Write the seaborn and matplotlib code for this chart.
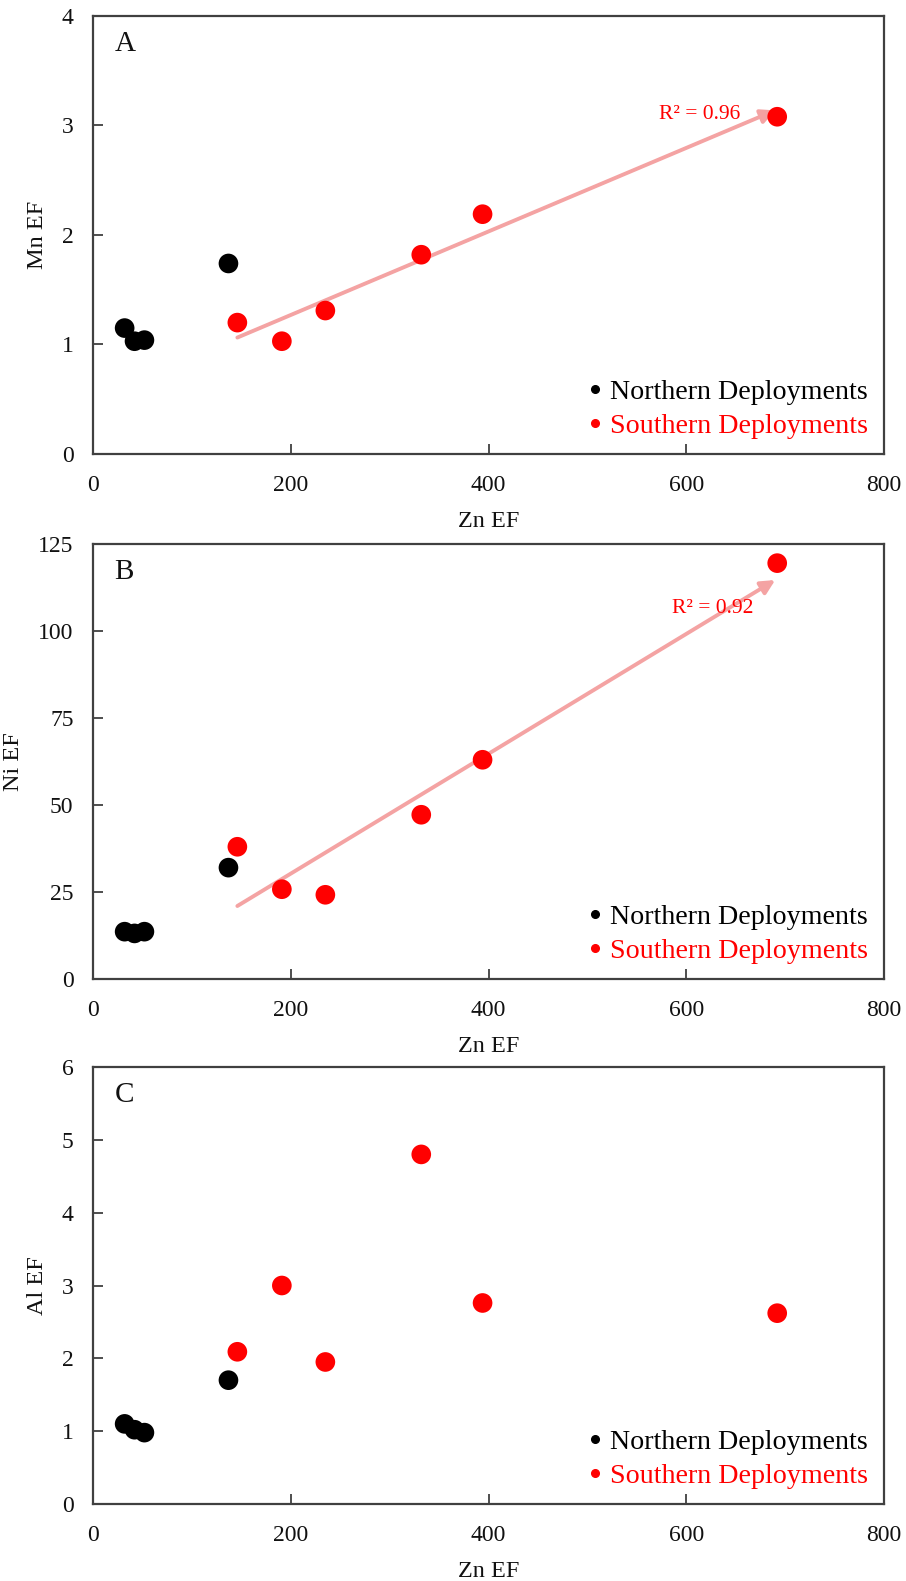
import numpy as np
import pandas as pd
import matplotlib
matplotlib.use("Agg")
import matplotlib.pyplot as plt
from matplotlib.lines import Line2D
import seaborn as sns

# ---- data ----
zn_north = [32, 42, 52, 137]
zn_south = [146, 191, 235, 332, 394, 692]
mn_north = [1.15, 1.03, 1.04, 1.74]
mn_south = [1.20, 1.03, 1.31, 1.82, 2.19, 3.08]
ni_north = [13.6, 13.1, 13.6, 32.0]
ni_south = [38.0, 25.8, 24.2, 47.2, 63.0, 119.5]
al_north = [1.10, 1.02, 0.98, 1.70]
al_south = [2.09, 3.00, 1.95, 4.80, 2.76, 2.62]
groups = ["Northern Deployments", "Southern Deployments"]
panel_letters = ["A", "B", "C"]
ylabels = ["Mn EF", "Ni EF", "Al EF"]
ylims = [(0, 4), (0, 125), (0, 6)]
ysteps = [1, 25, 1]
r2_labels = ["R\u00b2 = 0.96", "R\u00b2 = 0.92", None]

sns.set_theme(style="white")
plt.rcParams['font.family'] = ['Liberation Serif', 'DejaVu Serif']

fig = plt.figure(figsize=(9.06, 15.81), dpi=100)
W, H = 906, 1581
left, right = 93, 884
panels_px = [(16, 454), (544, 979), (1067, 1504)]

palette = {groups[0]: "#000000", groups[1]: "#ff0000"}
ys_north = [mn_north, ni_north, al_north]
ys_south = [mn_south, ni_south, al_south]
r2_pos = [(655, 3.10), (668, 106.5), None]

for i in range(3):
    top, bot = panels_px[i]
    ax = fig.add_axes([left / W, 1 - bot / H, (right - left) / W, (bot - top) / H])
    df = pd.DataFrame({
        "Zn": zn_north + zn_south,
        "Y": ys_north[i] + ys_south[i],
        "grp": [groups[0]] * len(zn_north) + [groups[1]] * len(zn_south),
    })
    sns.scatterplot(data=df, x="Zn", y="Y", hue="grp", palette=palette, s=200,
                    edgecolor="none", legend=False, ax=ax, zorder=3)
    # trend line arrow for panels A and B
    if r2_labels[i] is not None:
        xs = np.array(zn_south, dtype=float)
        ys = np.array(ys_south[i], dtype=float)
        k, b = np.polyfit(xs, ys, 1)
        x0, x1 = xs.min(), xs.max() - 2
        ax.annotate("", xy=(x1, k * x1 + b), xytext=(x0, k * x0 + b),
                    arrowprops=dict(arrowstyle="-|>,head_length=0.7,head_width=0.35",
                                    color="#f4a3a3", lw=2.8, shrinkA=0, shrinkB=0),
                    zorder=2)
        tx, ty = r2_pos[i]
        ax.text(tx, ty, r2_labels[i], color="#ff0000", fontsize=15.5,
                ha="right", va="center")
    ax.set_xlim(0, 800)
    ax.set_ylim(*ylims[i])
    ax.set_xticks(np.arange(0, 801, 200))
    ax.set_yticks(np.arange(ylims[i][0], ylims[i][1] + 0.001, ysteps[i]))
    ax.tick_params(axis="both", direction="in", length=7, width=1.3,
                   colors="#404040", labelcolor="#111111", labelsize=17,
                   bottom=True, left=True)
    ax.tick_params(axis="x", pad=15)
    ax.tick_params(axis="y", pad=14)
    for sp in ax.spines.values():
        sp.set_color("#404040")
        sp.set_linewidth(1.6)
    ax.set_xlabel("Zn EF", fontsize=17.5, color="#111111", labelpad=11)
    ax.set_ylabel(ylabels[i], fontsize=17.5, color="#111111", labelpad=10)
    ax.text(0.027, 0.935, panel_letters[i], transform=ax.transAxes,
            fontsize=21, ha="left", va="center", color="#111111")
    handles = [Line2D([0], [0], marker="o", linestyle="none", markersize=5.5,
                      color=palette[g]) for g in groups]
    leg = ax.legend(handles, groups, loc="lower right", frameon=False,
                    fontsize=20.2, handletextpad=0.1, handlelength=0.9,
                    labelspacing=0.3, borderaxespad=0, borderpad=0,
                    bbox_to_anchor=(0.98, 0.035))
    for t, g in zip(leg.get_texts(), groups):
        t.set_color(palette[g])

fig.savefig("out.png", dpi=100, facecolor="white")
